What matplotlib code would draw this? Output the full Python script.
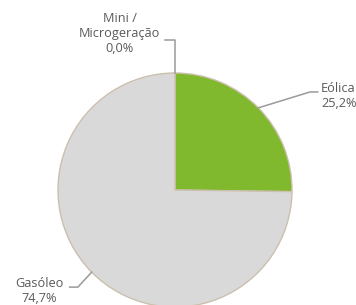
import matplotlib.pyplot as plt
import numpy as np

labels = ["Mini /\nMicrogeração", "Eólica", "Gasóleo"]
values = [0.0, 25.2, 74.7]
colors = ["#D9D9D9", "#80B82E", "#D9D9D9"]

plt.rcParams['font.family'] = ['Open Sans', 'DejaVu Sans']

fig = plt.figure(figsize=(3.56, 3.05), dpi=100)
# pie centre near (175, 190) px, radius ~117 px
ax = fig.add_axes([58/356, -2/305, 234/356, 234/305])

wedges, _ = ax.pie(values, colors=colors, startangle=90, counterclock=False, radius=1,
                   wedgeprops=dict(edgecolor="#CBC0AE", linewidth=1))
ax.set_xlim(-1, 1)
ax.set_ylim(-1, 1)
ax.set_aspect('equal')
ax.axis('off')

def pct(v):
    return f"{v:.1f}".replace(".", ",") + "%"

line_kw = dict(color="#9A9A9A", lw=1.1, clip_on=False)
txt_kw = dict(color="#5A5A5A", fontsize=9.2, linespacing=1.2)

# leader lines: (elbow, end, text pos, ha)
layout = [
    ((0.0, 1.28), -0.085, (-0.125, 1.335), "right"),
    ((1.154, 0.838), 1.22, (1.25, 0.80), "left"),
    ((-0.83, -0.83), -0.90, (-0.955, -0.86), "right"),
]

for w, v, lab, (elbow, xend, tpos, ha) in zip(wedges, values, labels, layout):
    ang = np.deg2rad((w.theta1 + w.theta2) / 2)
    x0, y0 = np.cos(ang), np.sin(ang)
    ax.plot([x0, elbow[0], xend], [y0, elbow[1], elbow[1]], **line_kw)
    ax.text(tpos[0], tpos[1], lab + "\n" + pct(v), ha=ha, va="center",
            multialignment="center" if ha == "right" else "left", clip_on=False, **txt_kw)

fig.savefig("out.png", dpi=100)
